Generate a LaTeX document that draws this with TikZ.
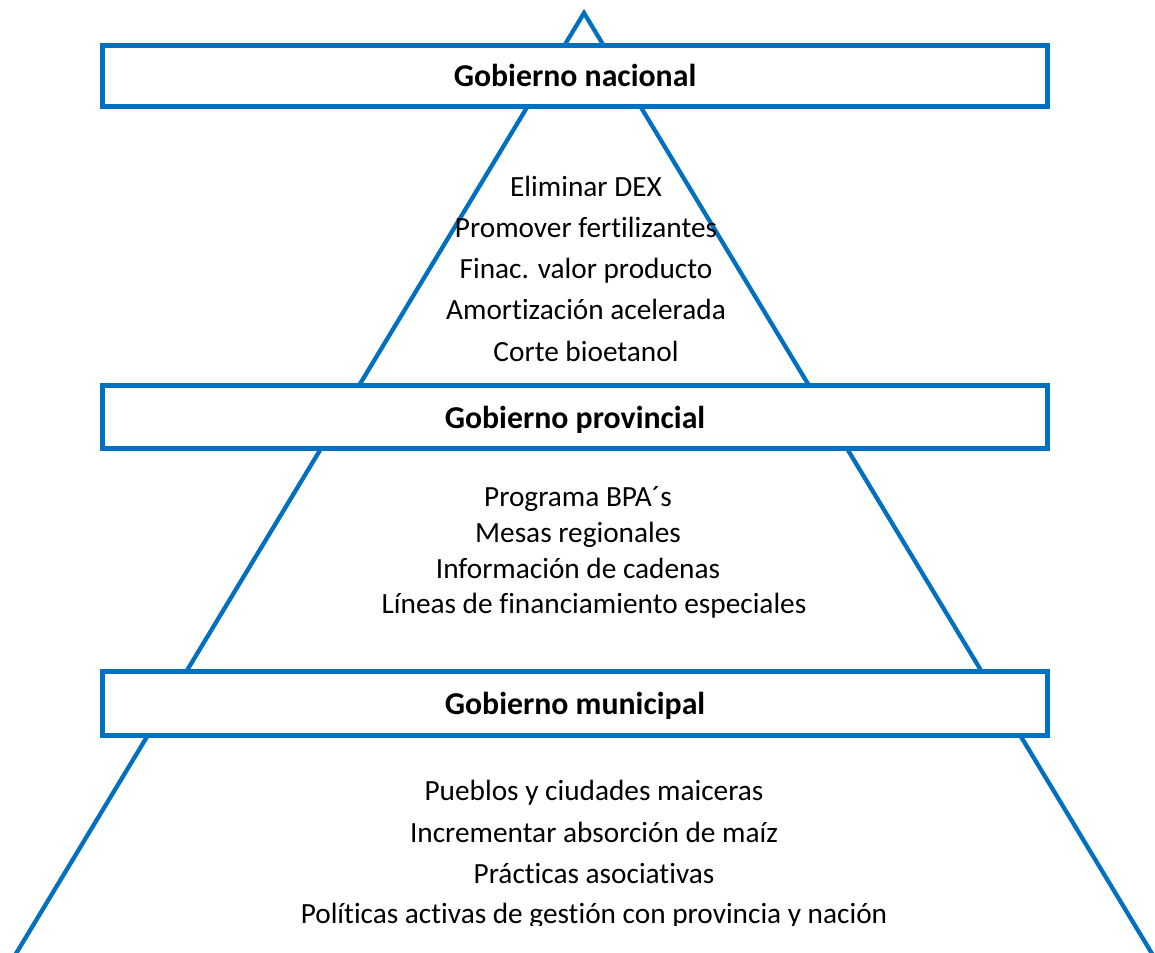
\documentclass[tikz,border=0pt]{standalone}
\usepackage{fontspec}
\setmainfont{Carlito}[Ligatures=NoCommon]
\definecolor{pyrblue}{HTML}{0070C0}
\begin{document}
\begin{tikzpicture}[x=1pt,y=-1pt,
  edge/.style={draw=pyrblue,line width=4.3pt,line join=miter},
  level/.style={draw=pyrblue,fill=white,line width=5pt,rectangle,inner sep=0pt,
    minimum width=945pt,text height=22pt,text depth=0pt,
    font=\fontsize{31.8}{38}\selectfont\bfseries},
  item/.style={anchor=base,inner sep=0pt,font=\fontsize{29.3}{35}\selectfont}]
\useasboundingbox (0,0) rectangle (1155,952);
\begin{scope}
\clip (0,0) rectangle (1155,952);
\coordinate (apex) at (584,13);
\coordinate (bl) at (-12,1000);
\coordinate (br) at (1180,1000);
\draw[edge] (bl) -- (apex) -- (br);
\end{scope}
\node[level,minimum height=61pt] (nac) at (575,76) {Gobierno nacional};
\node[level,minimum height=63pt] (prov) at (575,417) {Gobierno provincial};
\node[level,minimum height=64pt] (mun) at (575,703) {Gobierno municipal};
% nacional
\node[item] (n1) at (586,196) {Eliminar DEX};
\node[item] (n2) at (586,237) {Promover fertilizantes};
\node[item] (n3) at (586,278) {Finac. valor producto};
\node[item] (n4) at (586,319) {Amortización acelerada};
\node[item] (n5) at (586,361) {Corte bioetanol};
% provincial
\node[item] (p1) at (578,506) {Programa BPA´s};
\node[item] (p2) at (578,542) {Mesas regionales};
\node[item] (p3) at (578,578) {Información de cadenas};
\node[item] (p4) at (594,613) {Líneas de financiamiento especiales};
% municipal
\node[item] (m1) at (594,800) {Pueblos y ciudades maiceras};
\node[item] (m2) at (594,842) {Incrementar absorción de maíz};
\node[item] (m3) at (594,883) {Prácticas asociativas};
\begin{scope}
\clip (0,0) rectangle (1155,925);
\node[item] (m4) at (594,923) {Políticas activas de gestión con provincia y nación};
\end{scope}
\end{tikzpicture}
\end{document}
